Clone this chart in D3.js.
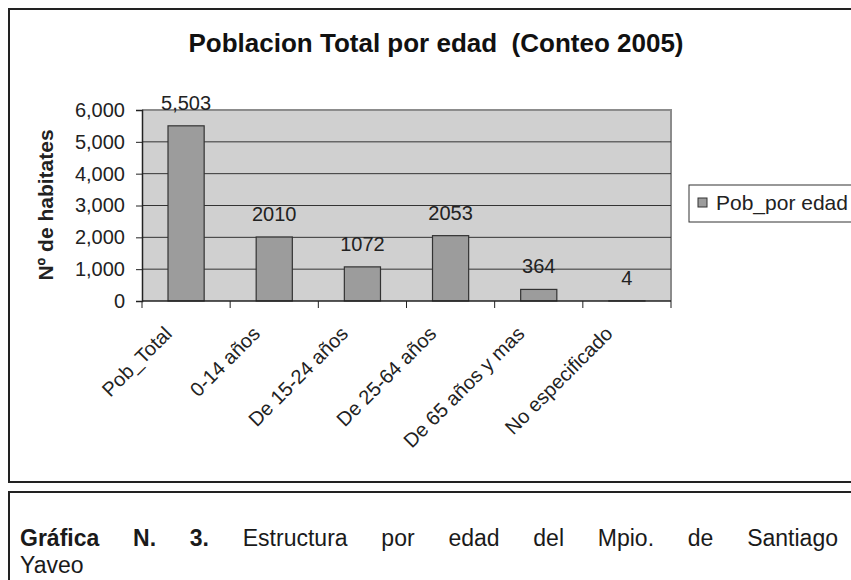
<!DOCTYPE html>
<html>
<head>
<meta charset="utf-8">
<script src="https://cdn.jsdelivr.net/npm/d3@7"></script>
<style>
  body { margin: 0; background: #fff; }
  svg { font-family: "Liberation Sans", Arial, sans-serif; }
</style>
</head>
<body>
<div id="chart"></div>
<script>
// data
const categories = ['Pob_Total', '0-14 años', 'De 15-24 años', 'De 25-64 años', 'De 65 años y mas', 'No especificado'];
const values = [5503, 2010, 1072, 2053, 364, 4];
const valueLabels = ['5,503', '2010', '1072', '2053', '364', '4'];
const yTicks = [0, 1000, 2000, 3000, 4000, 5000, 6000];

const W = 851, H = 580;
const plot = { left: 142, top: 110, right: 671, bottom: 301 };

const svg = d3.select('#chart').append('svg')
    .attr('width', W)
    .attr('height', H);

// outer chart frame
svg.append('rect')
    .attr('x', 9).attr('y', 9)
    .attr('width', W + 10).attr('height', 473)
    .attr('fill', '#fff')
    .attr('stroke', '#222')
    .attr('stroke-width', 2);

svg.append('text')
    .attr('x', 436).attr('y', 52)
    .attr('text-anchor', 'middle')
    .attr('xml:space', 'preserve')
    .style('font-size', '26px')
    .style('font-weight', 'bold')
    .attr('fill', '#111')
    .text('Poblacion Total por edad  (Conteo 2005)');

const x = d3.scaleBand()
    .domain(categories)
    .range([plot.left, plot.right])
    .paddingInner(0.59)
    .paddingOuter(0.295);

const xb = d3.scaleBand()
    .domain(categories)
    .range([plot.left, plot.right]);

const y = d3.scaleLinear()
    .domain([0, 6000])
    .range([plot.bottom, plot.top]);

// plot area
svg.append('rect')
    .attr('x', plot.left).attr('y', plot.top)
    .attr('width', plot.right - plot.left)
    .attr('height', plot.bottom - plot.top)
    .attr('fill', '#d0d0d0');

svg.append('path')
    .attr('d', `M${plot.left},${plot.top}H${plot.right}V${plot.bottom + 7}`)
    .attr('fill', 'none')
    .attr('stroke', '#8c8c8c')
    .attr('stroke-width', 2);

svg.selectAll('.grid')
    .data(yTicks.filter(d => d > 0 && d < 6000))
    .enter()
    .append('line')
    .attr('class', 'grid')
    .attr('x1', plot.left).attr('x2', plot.right)
    .attr('y1', d => y(d)).attr('y2', d => y(d))
    .attr('stroke', '#333')
    .attr('stroke-width', 1);

// bars
svg.selectAll('.bar')
    .data(values)
    .enter()
    .append('rect')
    .attr('class', 'bar')
    .attr('x', (d, i) => x(categories[i]))
    .attr('y', d => y(d))
    .attr('width', x.bandwidth())
    .attr('height', d => plot.bottom - y(d))
    .attr('fill', '#9c9c9c')
    .attr('stroke', '#333')
    .attr('stroke-width', 1.2);

svg.selectAll('.vlabel')
    .data(valueLabels)
    .enter()
    .append('text')
    .attr('class', 'vlabel')
    .attr('x', (d, i) => x(categories[i]) + x.bandwidth() / 2)
    .attr('y', (d, i) => y(values[i]) - 16)
    .attr('text-anchor', 'middle')
    .style('font-size', '20px')
    .attr('fill', '#222')
    .text(d => d);

// y axis
const yAxis = svg.append('g')
    .attr('transform', `translate(${plot.left},0)`)
    .call(d3.axisLeft(y).tickValues(yTicks).tickSize(6).tickPadding(11).tickFormat(d3.format(',')));
yAxis.select('.domain').attr('stroke', '#222').attr('stroke-width', 1.5);
yAxis.selectAll('.tick line').attr('stroke', '#222');
yAxis.selectAll('text')
    .style('font-size', '20px')
    .attr('fill', '#222')
    .attr('font-family', '"Liberation Sans", Arial, sans-serif');

// x axis
svg.append('line')
    .attr('x1', plot.left).attr('x2', plot.right)
    .attr('y1', plot.bottom).attr('y2', plot.bottom)
    .attr('stroke', '#222').attr('stroke-width', 1.5);

svg.selectAll('.xtick')
    .data(categories)
    .enter()
    .append('line')
    .attr('class', 'xtick')
    .attr('x1', d => xb(d)).attr('x2', d => xb(d))
    .attr('y1', plot.bottom).attr('y2', plot.bottom + 7)
    .attr('stroke', '#222');

svg.selectAll('.xlabel')
    .data(categories)
    .enter()
    .append('text')
    .attr('class', 'xlabel')
    .attr('transform', d => `translate(${xb(d) + xb.bandwidth() / 2 - 13},${plot.bottom + 34}) rotate(-45)`)
    .attr('text-anchor', 'end')
    .style('font-size', '20px')
    .attr('fill', '#222')
    .text(d => d);

svg.append('text')
    .attr('transform', `translate(53,205) rotate(-90)`)
    .attr('text-anchor', 'middle')
    .style('font-size', '21px')
    .style('font-weight', 'bold')
    .attr('fill', '#222')
    .text('Nº de habitates');

// legend
const lg = svg.append('g').attr('transform', 'translate(689,185)');
lg.append('rect')
    .attr('width', 180).attr('height', 37)
    .attr('fill', '#fff')
    .attr('stroke', '#333')
    .attr('stroke-width', 1);
lg.append('rect')
    .attr('x', 9).attr('y', 13)
    .attr('width', 9).attr('height', 9)
    .attr('fill', '#9c9c9c')
    .attr('stroke', '#333');
lg.append('text')
    .attr('x', 27).attr('y', 25)
    .style('font-size', '21px')
    .attr('fill', '#222')
    .text('Pob_por edad');

// caption box
svg.append('rect')
    .attr('x', 9).attr('y', 492)
    .attr('width', W + 10).attr('height', 100)
    .attr('fill', '#fff')
    .attr('stroke', '#222')
    .attr('stroke-width', 2);

// caption line 1, justified word by word
const capWords = [
    { t: 'Gráfica', b: true }, { t: 'N.', b: true }, { t: '3.', b: true },
    { t: 'Estructura' }, { t: 'por' }, { t: 'edad' }, { t: 'del' },
    { t: 'Mpio.' }, { t: 'de' }, { t: 'Santiago' }
];
const capStart = 20, capEnd = 838;
const capNodes = capWords.map(w => svg.append('text')
    .attr('y', 546)
    .style('font-size', '23px')
    .style('font-weight', w.b ? 'bold' : 'normal')
    .attr('fill', '#1a1a1a')
    .text(w.t));
const widths = capNodes.map(n => n.node().getComputedTextLength());
const gap = (capEnd - capStart - d3.sum(widths)) / (capWords.length - 1);
let cx = capStart;
capNodes.forEach((n, i) => { n.attr('x', cx); cx += widths[i] + gap; });

svg.append('text')
    .attr('x', capStart).attr('y', 573)
    .style('font-size', '23px')
    .attr('fill', '#1a1a1a')
    .text('Yaveo');
</script>
</body>
</html>
